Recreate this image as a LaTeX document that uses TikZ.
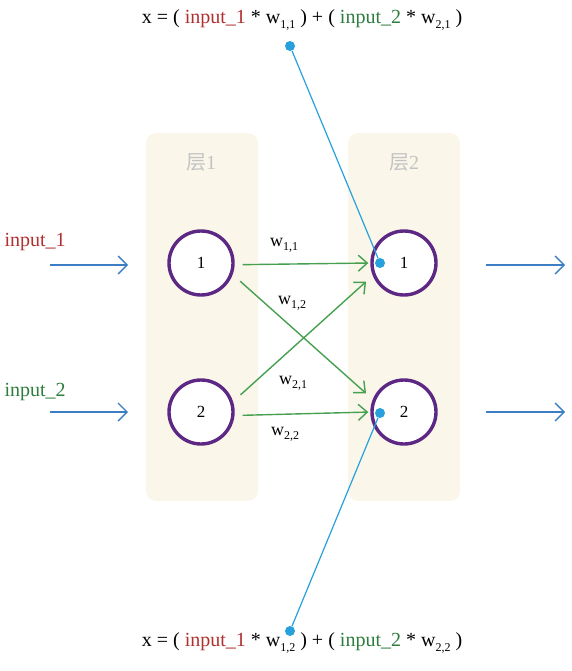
\documentclass[tikz,border=0pt]{standalone}
\usepackage{fontspec}
\setmainfont{Liberation Serif}
\newfontfamily\cjk{Noto Sans CJK SC}
\usetikzlibrary{arrows.meta}
\definecolor{layercream}{RGB}{250,247,234}
\definecolor{layergray}{RGB}{195,195,195}
\definecolor{neuronpurple}{RGB}{92,40,132}
\definecolor{wirered}{RGB}{176,48,48}
\definecolor{wiregreen}{RGB}{46,125,62}
\definecolor{arrowgreen}{RGB}{70,160,80}
\definecolor{flowblue}{RGB}{60,125,195}
\definecolor{pointblue}{RGB}{40,160,220}
\tikzset{
  layerbox/.style={
    fill=layercream,
    draw=none,
    rounded corners=10pt
  },
  neuron/.style={
    circle,
    line width=3.4pt,
    draw=neuronpurple,
    fill=white,
    minimum size=64pt,
    inner sep=0pt,
    font=\fontsize{17}{19}\selectfont
  },
  flow/.style={
    draw=flowblue,
    line width=1.4pt,
    -{Straight Barb[length=9pt,width=18pt,line width=1.4pt]}
  },
  weight/.style={
    draw=arrowgreen,
    line width=1.4pt,
    -{Straight Barb[length=9pt,width=16pt,line width=1.4pt]}
  },
  probe/.style={draw=pointblue, line width=1.2pt},
  dot/.style={circle, fill=pointblue, minimum size=10pt, inner sep=0pt},
  wlabel/.style={font=\fontsize{18}{20}\selectfont},
  formula/.style={font=\fontsize{20}{23}\selectfont}
}
\newcommand{\wsub}[1]{w\raisebox{-0.5ex}{\fontsize{12}{13}\selectfont #1}}

\begin{document}
\begin{tikzpicture}[x=1pt,y=-1pt]
  \useasboundingbox (0,0) rectangle (572,671);
  % layers
  \fill[layerbox] (146,133) rectangle (258,501);
  \fill[layerbox] (348,133) rectangle (460,501);
  \node[layergray, font=\fontsize{20}{22}\selectfont] (lab1) at (201,162) {{\cjk 层}1};
  \node[layergray, font=\fontsize{20}{22}\selectfont] (lab2) at (404,162) {{\cjk 层}2};

  % neurons
  \node[neuron] (n11) at (201,263) {1};
  \node[neuron] (n12) at (201,412) {2};
  \node[neuron] (n21) at (404,263) {1};
  \node[neuron] (n22) at (404,412) {2};

  % inputs and outputs
  \node[wirered, formula, anchor=west] (in1) at (1,242) {input\_1};
  \node[wiregreen, formula, anchor=west] (in2) at (1,392) {input\_2};
  \coordinate (s1) at (50,265);
  \coordinate (e1) at (128,265);
  \coordinate (s2) at (50,412);
  \coordinate (e2) at (128,412);
  \coordinate (o1s) at (486,265);
  \coordinate (o1e) at (565,265);
  \coordinate (o2s) at (486,412);
  \coordinate (o2e) at (565,412);
  \draw[flow] (s1) -- (e1);
  \draw[flow] (s2) -- (e2);
  \draw[flow] (o1s) -- (o1e);
  \draw[flow] (o2s) -- (o2e);

  % weights
  \draw[weight, shorten <=8pt, shorten >=2pt] (n11.-3) -- (n21.west);
  \draw[weight, shorten <=10pt, shorten >=9pt] (n11.-20) -- (n22.158);
  \draw[weight, shorten <=10pt, shorten >=9pt] (n12.18) -- (n21.-158);
  \draw[weight, shorten <=8pt, shorten >=2pt] (n12.-6) -- (n22.west);
  \node[wlabel] (w11) at (284,245) {\wsub{1,1}};
  \node[wlabel] (w12) at (292,303) {\wsub{1,2}};
  \node[wlabel] (w21) at (293,383) {\wsub{2,1}};
  \node[wlabel] (w22) at (285,434) {\wsub{2,2}};

  % formulas
  \node[formula] (f1) at (302,20) {x = ( {\color{wirered}input\_1} * \wsub{1,1} ) + ( {\color{wiregreen}input\_2} * \wsub{2,1} )};
  \node[formula] (f2) at (302,643) {x = ( {\color{wirered}input\_1} * \wsub{1,2} ) + ( {\color{wiregreen}input\_2} * \wsub{2,2} )};
  \node[dot] (p1) at (290,46) {};
  \node[dot] (q1) at (380,263) {};
  \node[dot] (p2) at (290,631) {};
  \node[dot] (q2) at (380,413) {};
  \draw[probe] (p1) -- (q1);
  \draw[probe] (p2) -- (q2);
\end{tikzpicture}
\end{document}
